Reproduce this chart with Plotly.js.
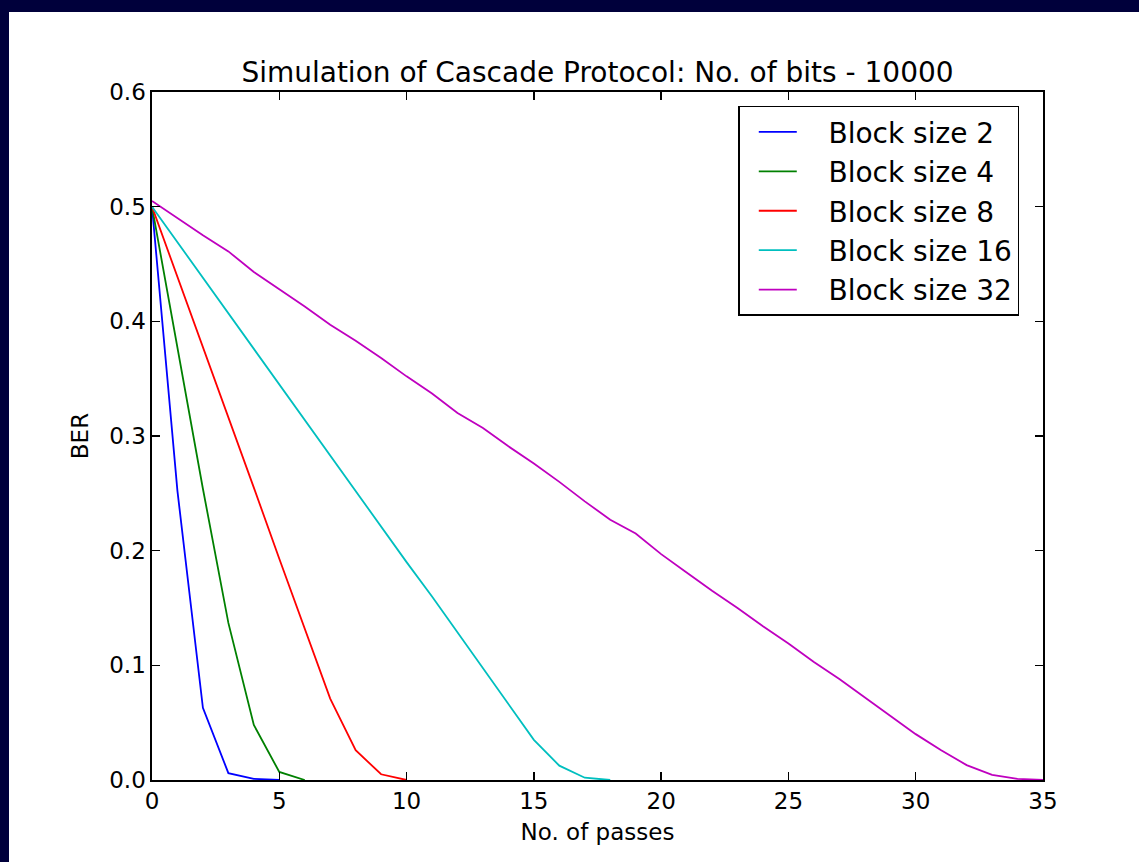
<!DOCTYPE html>
<html>
<head>
<meta charset="utf-8">
<script src="https://cdn.plot.ly/plotly-3.0.1.min.js"></script>
<style>
  html, body { margin: 0; padding: 0; background: #00003b; width: 1139px; height: 862px; overflow: hidden; }
  #chart { position: absolute; left: 9px; top: 12px; width: 1130px; height: 850px; background: #ffffff; }
</style>
</head>
<body>
<div id="chart"></div>
<script>
// Data
const seriesNames = ["Block size 2", "Block size 4", "Block size 8", "Block size 16", "Block size 32"];

const passes2  = [0, 1, 2, 3, 4, 5];
const ber2     = [0.5, 0.252, 0.063, 0.006, 0.001, 0.0];

const passes4  = [0, 1, 2, 3, 4, 5, 6];
const ber4     = [0.5, 0.377, 0.254, 0.137, 0.048, 0.007, 0.0];

const passes8  = [0, 1, 2, 3, 4, 5, 6, 7, 8, 9, 10];
const ber8     = [0.5, 0.439, 0.378, 0.316, 0.255, 0.193, 0.132, 0.071, 0.026, 0.005, 0.0];

const passes16 = [0, 1, 2, 3, 4, 5, 6, 7, 8, 9, 10, 11, 12, 13, 14, 15, 16, 17, 18];
const ber16    = [0.5, 0.469, 0.438, 0.407, 0.376, 0.345, 0.314, 0.283, 0.251, 0.221, 0.190, 0.160, 0.129, 0.097, 0.066, 0.035, 0.0125, 0.002, 0.0];

const passes32 = [0, 1, 2, 3, 4, 5, 6, 7, 8, 9, 10, 11, 12, 13, 14, 15, 16, 17, 18, 19, 20, 21, 22, 23, 24, 25, 26, 27, 28, 29, 30, 31, 32, 33, 34, 35];
const ber32    = [0.505, 0.490, 0.475, 0.461, 0.443, 0.428, 0.413, 0.397, 0.383, 0.368, 0.352, 0.337, 0.320, 0.307, 0.291, 0.276, 0.260, 0.243, 0.227, 0.215, 0.197, 0.181, 0.165, 0.150, 0.134, 0.119, 0.103, 0.088, 0.072, 0.056, 0.040, 0.026, 0.013, 0.0045, 0.001, 0.0];

const xTicks = [0, 5, 10, 15, 20, 25, 30, 35];
const yTicks = [0.0, 0.1, 0.2, 0.3, 0.4, 0.5, 0.6];

const colors = ["#0000ff", "#008000", "#ff0000", "#00bfbf", "#bf00bf"];
const xs = [passes2, passes4, passes8, passes16, passes32];
const ys = [ber2, ber4, ber8, ber16, ber32];

const legendPad = "\u00a0\u00a0\u00a0";

const traces = xs.map((x, i) => ({
  type: "scatter",
  mode: "lines",
  x: x,
  y: ys[i],
  name: legendPad + seriesNames[i],
  legendgroup: "g" + i,
  line: { color: colors[i], width: 1.8 },
  cliponaxis: true
}));

const font = "DejaVu Sans, Verdana, sans-serif";

const layout = {
  width: 1130,
  height: 850,
  paper_bgcolor: "#ffffff",
  plot_bgcolor: "#ffffff",
  margin: { l: 143, r: 96, t: 80, b: 82, pad: 0 },
  font: { family: font, color: "#000000", size: 23 },
  title: {
    text: "Simulation of Cascade Protocol: No. of bits - 10000",
    font: { family: font, size: 28, color: "#000000" },
    x: 0.5, xref: "paper", xanchor: "center",
    y: 1, yref: "paper", yanchor: "bottom",
    pad: { b: 10 }
  },
  xaxis: {
    range: [0, 35],
    tickvals: xTicks,
    ticktext: xTicks.map(v => String(v)),
    ticks: "inside", ticklen: 8, tickwidth: 1.3, tickcolor: "#000000",
    showline: true, linecolor: "#000000", linewidth: 1.6, mirror: "ticks",
    showgrid: false, zeroline: false,
    tickfont: { family: font, size: 23, color: "#000000" },
    title: { text: "No. of passes", font: { family: font, size: 23, color: "#000000" }, standoff: 10 }
  },
  yaxis: {
    range: [0, 0.6],
    tickvals: yTicks,
    ticktext: yTicks.map(v => v.toFixed(1)),
    ticks: "inside", ticklen: 8, tickwidth: 1.3, tickcolor: "#000000",
    showline: true, linecolor: "#000000", linewidth: 1.6, mirror: "ticks",
    showgrid: false, zeroline: false,
    tickfont: { family: font, size: 23, color: "#000000" },
    title: { text: "BER", font: { family: font, size: 23, color: "#000000" }, standoff: 14 }
  },
  showlegend: true,
  legend: {
    x: 0.658, y: 0.98, xanchor: "left", yanchor: "top",
    bgcolor: "#ffffff", bordercolor: "#000000", borderwidth: 1.5,
    font: { family: font, size: 28, color: "#000000" },
    tracegroupgap: 8,
    indentation: 14,
    itemwidth: 38,
    traceorder: "normal"
  }
};

Plotly.newPlot("chart", traces, layout, { staticPlot: true, displayModeBar: false });
</script>
</body>
</html>
